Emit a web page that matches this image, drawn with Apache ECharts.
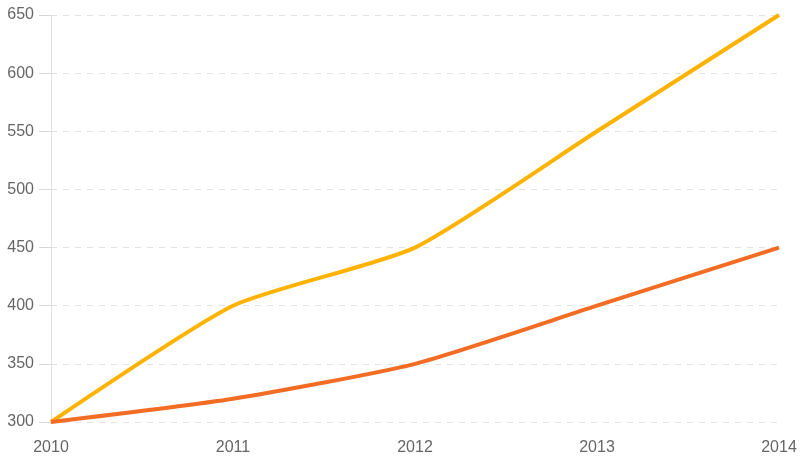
<!DOCTYPE html>
<html>
<head>
<meta charset="utf-8">
<script src="https://cdn.jsdelivr.net/npm/echarts@6/dist/echarts.min.js"></script>
<style>
  html, body { margin: 0; padding: 0; background: #fff; }
  #chart { width: 804px; height: 465px; }
</style>
</head>
<body>
<div id="chart"></div>
<script>
const years = ['2010', '2011', '2012', '2013', '2014'];
const seriesA = [300, 400, 450, 550, 650];
const seriesB = [300, 320, 350, 400, 450];

const chart = echarts.init(document.getElementById('chart'));
chart.setOption({
  animation: false,
  grid: { left: 51, right: 25, top: 15, bottom: 43 },
  xAxis: {
    type: 'category', data: years, boundaryGap: false,
    axisLine: { show: false }, axisTick: { show: false },
    axisLabel: { color: '#666', fontSize: 16, margin: 18, fontFamily: 'Liberation Sans, Arial, sans-serif' }
  },
  yAxis: {
    type: 'value', min: 300, max: 650, interval: 50,
    axisLine: { show: true, lineStyle: { color: '#e0e0e0' } },
    axisTick: { show: true, length: 12, lineStyle: { color: '#d8d8d8' } },
    axisLabel: { color: '#666', fontSize: 16, margin: 17, fontFamily: 'Liberation Sans, Arial, sans-serif' },
    splitLine: { lineStyle: { color: '#e3e3e3', type: [6, 6] } }
  },
  series: [
    { type: 'line', data: seriesA, smooth: 0.2, symbol: 'none',
      lineStyle: { color: '#FFB300', width: 4 } },
    { type: 'line', data: seriesB, smooth: 0.2, symbol: 'none',
      lineStyle: { color: '#F36C23', width: 4 } }
  ]
});
</script>
</body>
</html>
